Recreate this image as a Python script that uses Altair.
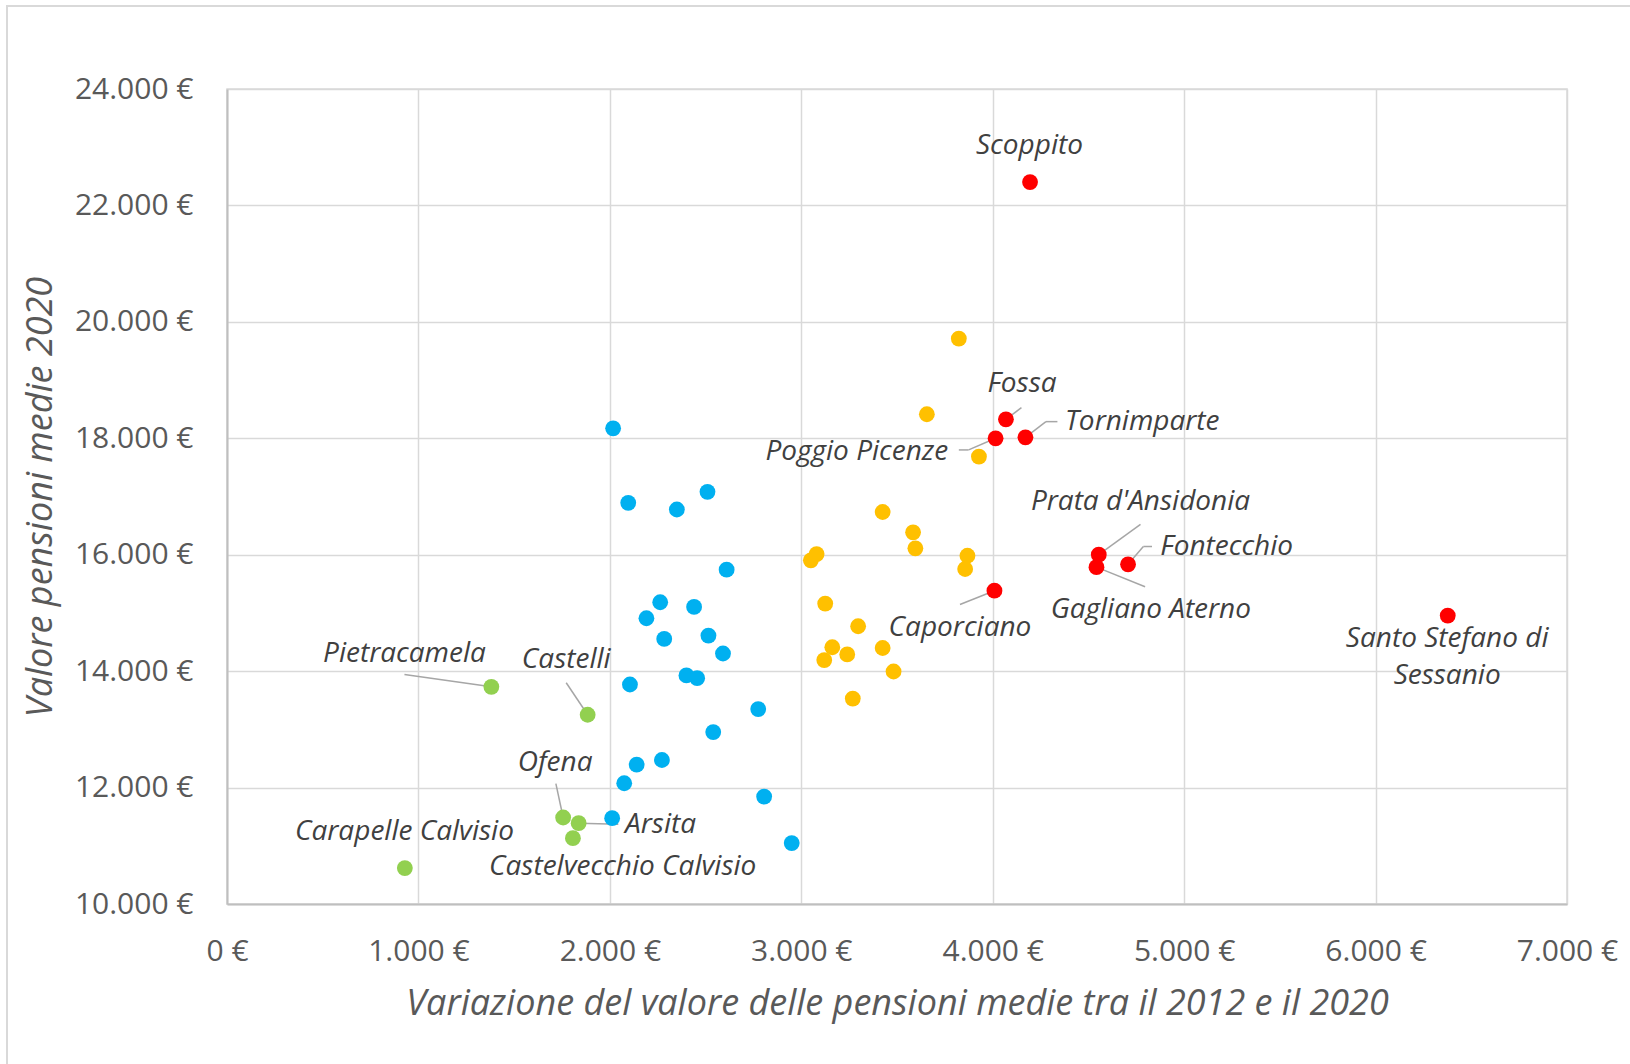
import altair as alt
import pandas as pd

# Comuni: variazione 2012-2020 (x) e valore pensioni medie 2020 (y), per gruppo
blu_x = [2017, 2096, 2350, 2510, 2610, 2263, 2440, 2191, 2284, 2515, 2591,
         2400, 2456, 2105, 2775, 2540, 2272, 2140, 2075, 2806, 2012, 2950]
blu_y = [18171, 16891, 16777, 17080, 15743, 15183, 15103, 14909, 14554, 14611, 14303,
         13926, 13880, 13771, 13349, 12954, 12474, 12394, 12074, 11846, 11474, 11046]

gialli_x = [3823, 3656, 3928, 3425, 3584, 3596, 3080, 3050, 3868, 3856,
            3125, 3297, 3162, 3120, 3240, 3425, 3482, 3269]
gialli_y = [19713, 18413, 17685, 16734, 16385, 16110, 16011, 15903, 15982, 15755,
            15160, 14771, 14410, 14190, 14287, 14398, 13994, 13529]

# Scoppito, Fossa, Tornimparte, Poggio Picenze, Prata d'Ansidonia,
# Gagliano Aterno, Fontecchio, Caporciano, Santo Stefano di Sessanio
rossi_x = [4195, 4069, 4171, 4015, 4554, 4542, 4707, 4009, 6377]
rossi_y = [22401, 18326, 18017, 18000, 16000, 15786, 15835, 15382, 14954]

# Pietracamela, Castelli, Ofena, Arsita, Castelvecchio Calvisio, Carapelle Calvisio
verdi_x = [1381, 1884, 1756, 1837, 1807, 929]
verdi_y = [13731, 13251, 11486, 11389, 11131, 10617]

# Etichette dei comuni
etichette = ["Scoppito", "Fossa", "Tornimparte", "Poggio Picenze", "Prata d'Ansidonia",
             "Fontecchio", "Gagliano Aterno", "Caporciano", "Santo Stefano di", "Sessanio",
             "Pietracamela", "Castelli", "Ofena", "Arsita", "Carapelle Calvisio",
             "Castelvecchio Calvisio"]
etich_x = [4192, 4153, 4781, 3290, 4772, 5222, 4826, 3829, 6374, 6374,
           927, 1772, 1714, 2265, 927, 2067]
etich_y = [23014, 18934, 18286, 17771, 16905, 16135, 15052, 14746, 14550, 13914,
           14297, 14189, 12429, 11354, 11229, 10640]

# Linee di richiamo (da, a)
richiami_x = [4069, 4171, 4278, 4015, 3874, 4554, 4707, 4787, 4542, 4009, 1381, 1884, 1756, 1837]
richiami_y = [18326, 18017, 18286, 18000, 17800, 16000, 15835, 16141, 15786, 15382, 13731, 13251, 11486, 11389]
richiami_x2 = [4150, 4278, 4338, 3874, 3823, 4772, 4787, 4832, 4796, 3829, 927, 1772, 1718, 2044]
richiami_y2 = [18527, 18286, 18286, 17800, 17800, 16520, 16141, 16141, 15450, 15144, 13943, 13800, 12069, 11371]

X_TICKS = [0, 1000, 2000, 3000, 4000, 5000, 6000, 7000]
Y_TICKS = [10000, 12000, 14000, 16000, 18000, 20000, 22000, 24000]

W, H = 1340, 815

punti = pd.concat([
    pd.DataFrame({"x": blu_x, "y": blu_y, "gruppo": "blu"}),
    pd.DataFrame({"x": gialli_x, "y": gialli_y, "gruppo": "giallo"}),
    pd.DataFrame({"x": rossi_x, "y": rossi_y, "gruppo": "rosso"}),
    pd.DataFrame({"x": verdi_x, "y": verdi_y, "gruppo": "verde"}),
], ignore_index=True)

testi = pd.DataFrame({"nome": etichette, "x": etich_x, "y": etich_y})
richiami = pd.DataFrame({"x": richiami_x, "y": richiami_y, "x2": richiami_x2, "y2": richiami_y2})

euro = "replace(format(datum.value, ',.0f'), ',', '.') + ' €'"

x_scale = alt.Scale(domain=[0, 7000], nice=False, zero=False)
y_scale = alt.Scale(domain=[10000, 24000], nice=False, zero=False)

x_axis = alt.Axis(
    values=X_TICKS, labelExpr=euro, title="Variazione del valore delle pensioni medie tra il 2012 e il 2020",
    grid=True, gridColor="#D9D9D9", gridWidth=1.5, domainColor="#BFBFBF", domainWidth=2,
    ticks=False, labelFont="Open Sans", labelFontSize=30, labelColor="#595959", labelPadding=32,
    labelFlush=False,
    titleFont="Open Sans", titleFontSize=36, titleFontStyle="italic", titleFontWeight="normal",
    titleColor="#595959", titleX=W / 2, titleY=99, titleBaseline="middle", titleAnchor="middle",
)
y_axis = alt.Axis(
    values=Y_TICKS, labelExpr=euro, title="Valore pensioni medie 2020",
    grid=True, gridColor="#D9D9D9", gridWidth=1.5, domainColor="#BFBFBF", domainWidth=2,
    ticks=False, labelFont="Open Sans", labelFontSize=30, labelColor="#595959", labelPadding=34,
    labelFlush=False,
    titleFont="Open Sans", titleFontSize=36, titleFontStyle="italic", titleFontWeight="normal",
    titleColor="#595959", titleX=-187, titleY=H / 2, titleBaseline="middle", titleAnchor="middle",
    titleAngle=270,
)

cornice = alt.Chart(pd.DataFrame({"k": [0]})).mark_rect(
    fill=None, stroke="#D9D9D9", strokeWidth=2, clip=False
).encode(
    x=alt.value(-220), x2=alt.value(W + 100), y=alt.value(-83), y2=alt.value(H + 200)
)

linee = alt.Chart(richiami).mark_rule(color="#A6A6A6", strokeWidth=1.5).encode(
    x=alt.X("x:Q", scale=x_scale, axis=x_axis),
    y=alt.Y("y:Q", scale=y_scale, axis=y_axis),
    x2="x2:Q", y2="y2:Q",
)

cerchi = alt.Chart(punti).mark_circle(size=250, opacity=1).encode(
    x=alt.X("x:Q", scale=x_scale),
    y=alt.Y("y:Q", scale=y_scale),
    color=alt.Color("gruppo:N", legend=None, scale=alt.Scale(
        domain=["blu", "giallo", "rosso", "verde"],
        range=["#00B0F0", "#FFC000", "#FF0000", "#92D050"])),
)

scritte = alt.Chart(testi).mark_text(
    font="Open Sans", fontSize=28, fontStyle="italic", color="#404040",
    align="center", baseline="middle"
).encode(
    x=alt.X("x:Q", scale=x_scale),
    y=alt.Y("y:Q", scale=y_scale),
    text="nome:N",
)

chart = alt.layer(cornice, linee, cerchi, scritte).properties(
    width=W, height=H,
    autosize=alt.AutoSizeParams(type="none"),
    padding={"left": 227, "top": 89, "right": 63, "bottom": 160},
    background="white",
).configure_view(stroke="#D9D9D9", strokeWidth=1.5)

chart.save("out.html", embed_options={"renderer": "svg", "actions": False})
